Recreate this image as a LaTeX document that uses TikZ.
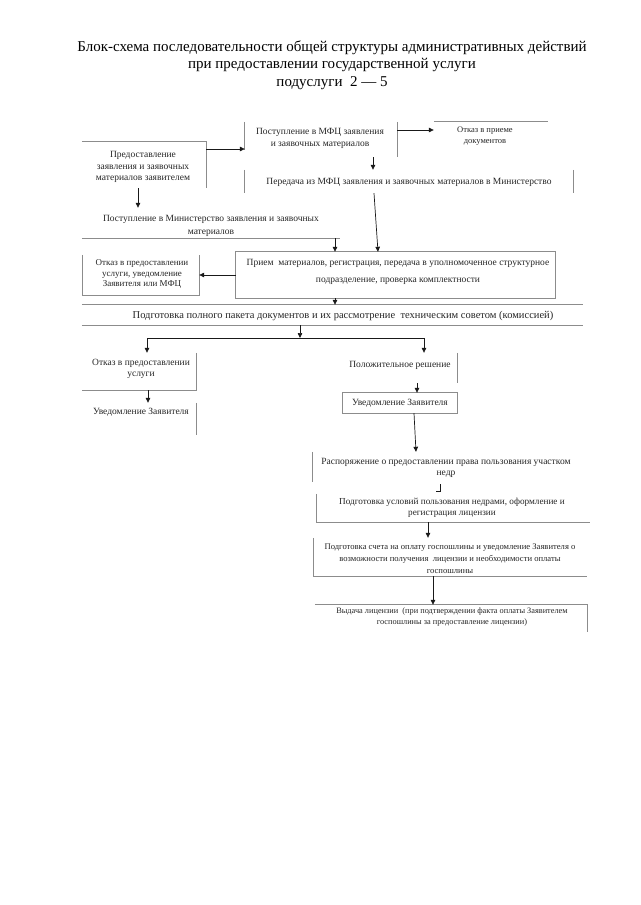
\documentclass[tikz,border=0pt]{standalone}
\usepackage{fontspec}
\setmainfont{Liberation Serif}
\usetikzlibrary{arrows.meta,calc}
\begin{document}
\begin{tikzpicture}[x=1pt,y=-1pt,
  frame/.style={rectangle, inner sep=0pt, draw=none},
  txt/.style={align=center, inner sep=0pt, font=\rmfamily\fontsize{9.5}{11.5}\selectfont, text=black!85},
  titletxt/.style={align=center, inner sep=0pt, font=\rmfamily\fontsize{15}{17.5}\selectfont, text=black},
  edge/.style={draw=black!45, line width=0.8pt},
  arr/.style={draw=black!90, line width=0.7pt, -{Triangle[length=5pt,width=4.5pt]}},
  link/.style={draw=black!90, line width=0.7pt}]
\useasboundingbox[fill=white] (0,0) rectangle (640,905);

% title
\node[titletxt] (t0) at (332,65) {Блок-схема последовательности общей структуры административных действий\\при предоставлении государственной услуги\\подуслуги~~2 — 5};

% box geometry
\node[frame, minimum width=124pt, minimum height=46pt] (b1) at (144,165) {};
\node[frame, minimum width=152pt, minimum height=35pt] (b2) at (321,139.5) {};
\node[frame, minimum width=114pt, minimum height=28pt] (b3) at (491,136) {};
\node[frame, minimum width=328pt, minimum height=23pt] (b4) at (409,181.5) {};
\node[frame, minimum width=258pt, minimum height=30pt] (b5) at (211,223) {};
\node[frame, minimum width=319pt, minimum height=46pt] (b6) at (395.5,275) {};
\node[frame, minimum width=116pt, minimum height=40pt] (b7) at (141,275) {};
\node[frame, minimum width=501pt, minimum height=20pt] (b8) at (332.5,315) {};
\node[frame, minimum width=114pt, minimum height=37pt] (b9) at (139,371.5) {};
\node[frame, minimum width=114pt, minimum height=32pt] (b10) at (139,419) {};
\node[frame, minimum width=114pt, minimum height=30pt] (b11) at (400,368) {};
\node[frame, minimum width=114pt, minimum height=20pt] (b12) at (400,403) {};
\node[frame, minimum width=267pt, minimum height=30pt] (b13) at (446.5,467) {};
\node[frame, minimum width=273pt, minimum height=28pt] (b14) at (453.5,508) {};
\node[frame, minimum width=273pt, minimum height=38pt] (b15) at (450.5,557) {};
\node[frame, minimum width=272pt, minimum height=27pt] (b16) at (451,618.5) {};

% texts
\node[txt] (t1) at (143,167) {Предоставление\\заявления и заявочных\\материалов заявителем};
\node[txt] (t2) at (320,138.5) {Поступление в МФЦ заявления\\и заявочных материалов};
\node[txt, font=\rmfamily\fontsize{8.5}{11}\selectfont] (t3) at (485,136) {Отказ в приеме\\документов};
\node[txt] (t4) at (409,182) {Передача из МФЦ заявления и заявочных материалов в Министерство};
\node[txt, font=\rmfamily\fontsize{9.5}{13}\selectfont] (t5) at (211,226) {Поступление в Министерство заявления и заявочных\\материалов};
\node[txt, font=\rmfamily\fontsize{9.5}{17}\selectfont] (t6) at (398,272) {Прием~~материалов, регистрация, передача в уполномоченное структурное\\подразделение, проверка комплектности};
\node[txt, font=\rmfamily\fontsize{9}{10.5}\selectfont] (t7) at (142,274) {Отказ в предоставлении\\услуги, уведомление\\Заявителя или МФЦ};
\node[txt, font=\rmfamily\fontsize{10.5}{12}\selectfont] (t8) at (343,316) {Подготовка полного пакета документов и их рассмотрение~~техническим советом (комиссией)};
\node[txt] (t9) at (141,369) {Отказ в предоставлении\\услуги};
\node[txt] (t10) at (141,412) {Уведомление Заявителя};
\node[txt] (t11) at (400,365) {Положительное решение};
\node[txt] (t12) at (400,403) {Уведомление Заявителя};
\node[txt] (t13) at (446,468) {Распоряжение о предоставлении права пользования участком\\недр};
\node[txt, font=\rmfamily\fontsize{9.2}{10.5}\selectfont] (t14) at (452,508) {Подготовка условий пользования недрами, оформление и\\регистрация лицензии};
\node[txt, font=\rmfamily\fontsize{8.6}{12}\selectfont] (t15) at (450,559) {Подготовка счета на оплату госпошлины и уведомление Заявителя о\\возможности получения~~лицензии и необходимости оплаты\\госпошлины};
\node[txt, font=\rmfamily\fontsize{8.3}{10.5}\selectfont] (t16) at (452,617) {Выдача лицензии~~(при подтверждении факта оплаты Заявителем\\госпошлины за предоставление лицензии)};

% visible box edges
\draw[edge] (b1.north west) -- (b1.north east) -- (b1.south east);
\draw[edge] (b2.north west) -- ([yshift=7pt]b2.south west);
\draw[edge] (b2.north east) -- (b2.south east);
\draw[edge] (b3.north west) -- (b3.north east);
\draw[edge] (b4.north west) -- (b4.south west) (b4.north east) -- (b4.south east);
\draw[edge] (b5.south west) -- (b5.south east);
\draw[edge] (b6.north west) rectangle (b6.south east);
\draw[edge] (b7.north west) -- (b7.south west) -- (b7.south east) -- (b7.north east);
\draw[edge] (b8.north west) -- (b8.north east) (b8.south west) -- (b8.south east);
\draw[edge] (b9.north east) -- (b9.south east) -- (b9.south west);
\draw[edge] (b10.north east) -- (b10.south east);
\draw[edge] (b11.north east) -- (b11.south east);
\draw[edge] (b12.north west) rectangle (b12.south east);
\draw[edge] (b13.north west) -- (b13.south west);
\draw[edge] (b14.north west) -- (b14.south west) -- (b14.south east);
\draw[edge] (b15.north west) -- (b15.south west) -- (b15.south east);
\draw[edge] (b16.north west) -- (b16.north east) -- (b16.south east);

% connectors
\draw[arr] (b1.east |- 0,149) -- (b2.west |- 0,149);
\draw[arr] (b2.east |- 0,130) -- (b3.west |- 0,130);
\draw[arr] (b2.south -| 373,0) -- (b4.north -| 373,0);
\draw[arr] (b4.south -| 374,0) -- (b6.north -| 378,0);
\draw[arr] (b1.south -| 138,0) -- (b5.north -| 138,0);
\draw[arr] (b5.south -| 335,0) -- (b6.north -| 335,0);
\draw[arr] (b6.west |- 0,275) -- (b7.east |- 0,275);
\draw[arr] (b6.south -| 335,0) -- (b8.north -| 335,0);
\coordinate (j) at (300,338);
\coordinate (jl) at (147,338);
\coordinate (jr) at (424,338);
\draw[arr] (b8.south -| j) -- (j);
\draw[link] (jl) -- (jr);
\draw[arr] (jl) -- (b9.north -| jl);
\draw[arr] (jr) -- (b11.north -| jr);
\draw[arr] (b9.south -| 148,0) -- (b10.north -| 148,0);
\draw[arr] (b11.south -| 417,0) -- (b12.north -| 417,0);
\draw[arr] (b12.south -| 414,0) -- (b13.north -| 416,0);
\coordinate (m1) at (436,491);
\coordinate (m2) at (440,491);
\coordinate (m3) at (440,484);
\draw[link] (m1) -- (m2) -- (m3);
\draw[arr] (b14.south -| 428,0) -- (b15.north -| 428,0);
\draw[arr] (b15.south -| 433,0) -- (b16.north -| 433,0);
\end{tikzpicture}
\end{document}
